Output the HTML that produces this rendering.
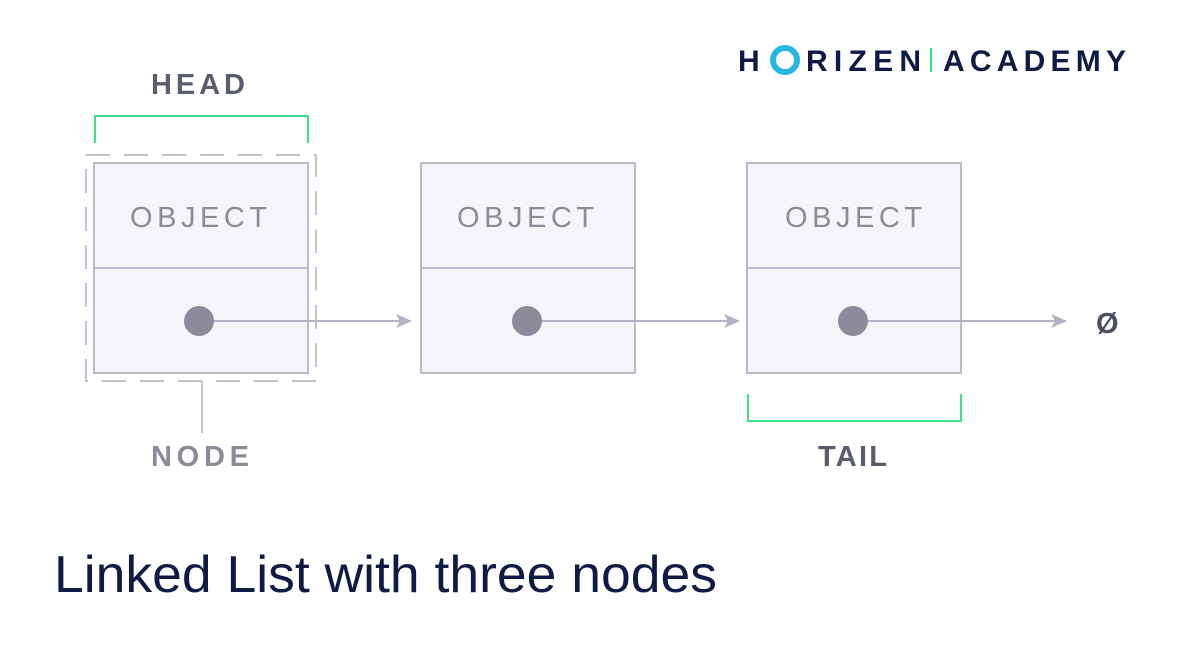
<!DOCTYPE html>
<html><head><style>body{margin:0;background:#fff}svg{display:block}</style></head><body>
<svg width="1182" height="658" viewBox="0 0 1182 658" xmlns="http://www.w3.org/2000/svg" font-family="Liberation Sans, sans-serif">
<defs><marker id="a" markerWidth="16" markerHeight="14" refX="15" refY="7" orient="auto" markerUnits="userSpaceOnUse"><path d="M0,0 L16,7 L0,14 L4,7 Z" fill="#b3b1c3"/></marker></defs>
<g fill="#f4f5f9" stroke="#bcbaca" stroke-width="2">
<rect x="94" y="163" width="214" height="210"/><line x1="94" y1="268" x2="308" y2="268"/>
<rect x="421" y="163" width="214" height="210"/><line x1="421" y1="268" x2="635" y2="268"/>
<rect x="747" y="163" width="214" height="210"/><line x1="747" y1="268" x2="961" y2="268"/>
</g>
<rect x="86" y="155" width="230" height="226" fill="none" stroke="#c4c2cf" stroke-width="2" stroke-dasharray="24,14"/>
<line x1="202" y1="381" x2="202" y2="433" stroke="#c4c2cf" stroke-width="2"/>
<g fill="none" stroke="#3ee08d" stroke-width="2">
<polyline points="95,143 95,116 308,116 308,143"/>
<polyline points="748,394 748,421 961,421 961,394"/>
</g>
<g stroke="#b3b1c3" stroke-width="2" marker-end="url(#a)">
<line x1="199" y1="321" x2="411" y2="321"/>
<line x1="527" y1="321" x2="739" y2="321"/>
<line x1="853" y1="321" x2="1066" y2="321"/>
</g>
<g fill="#8d8a99"><circle cx="199" cy="321" r="15"/><circle cx="527" cy="321" r="15"/><circle cx="853" cy="321" r="15"/></g>
<g fill="#8d8a99" font-size="29" letter-spacing="3">
<text x="130" y="227" textLength="140">OBJECT</text>
<text x="457" y="227" textLength="140">OBJECT</text>
<text x="785" y="227" textLength="140">OBJECT</text>
<text x="151" y="466" textLength="101" font-weight="bold">NODE</text>
</g>
<g fill="#5a5d6e" font-size="29" font-weight="bold" letter-spacing="3">
<text x="151" y="94" textLength="97">HEAD</text>
<text x="818" y="466" textLength="72">TAIL</text>
<text x="1096" y="333" fill="#4d5060">Ø</text>
</g>
<text x="54" y="592" font-size="52" fill="#0f1a45" textLength="663" lengthAdjust="spacingAndGlyphs">Linked List with three nodes</text>
<g font-size="30" font-weight="bold" fill="#0f1a45">
<text x="738" y="71">H</text>
<circle cx="785" cy="60" r="12" fill="none" stroke="#27b7e0" stroke-width="6"/>
<text x="806" y="71" textLength="115">RIZEN</text>
<rect x="930" y="48" width="2" height="24" fill="#3ee08d"/>
<text x="943" y="71" textLength="183">ACADEMY</text>
</g>
</svg>
</body></html>
